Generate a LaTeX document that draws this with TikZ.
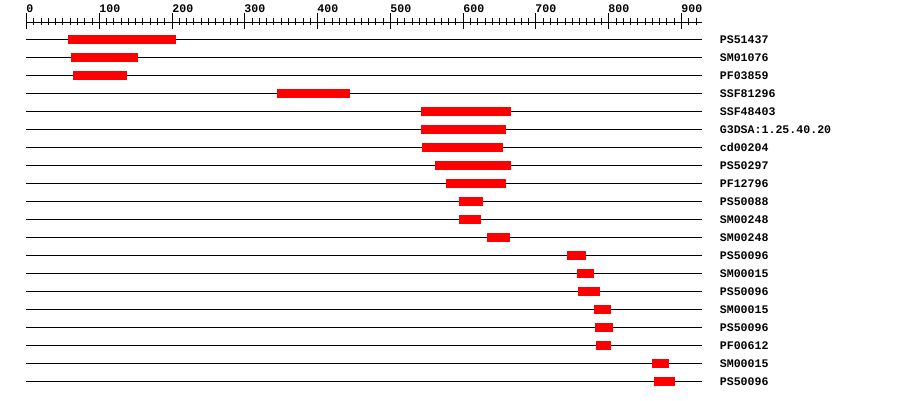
\documentclass[tikz,border=0pt]{standalone}
\usepackage{fontspec}
\setmonofont{Liberation Mono}
\usepackage{tikz}
\definecolor{domainred}{RGB}{255,0,0}

\begin{document}
\begin{tikzpicture}[
        x=0.02cm, y=-0.02cm,
        track/.style={line width=0.567pt, black},
        domainbar/.style={fill=domainred},
        ruletick/.style={line width=0.567pt, black},
        rulelabel/.style={font=\ttfamily\bfseries\fontsize{6.6}{7}\selectfont, inner sep=0pt, anchor=base west},
        dlabel/.style={font=\ttfamily\bfseries\fontsize{6.6}{7}\selectfont, inner sep=0pt, anchor=base west}
    ]
        \useasboundingbox (0,0) rectangle (900,400);

        % Ruler (sequence positions)
        \draw[ruletick] (26,22.5) -- (702,22.5);
        \foreach \t in {0,10,...,920}
            \draw[ruletick] ({round(0.7278*\t)+26.5},18) -- ++(0,7);
        \foreach \t in {0,100,...,900} {
            \draw[ruletick] ({round(0.7278*\t)+26.5},13) -- ++(0,16);
            \node[rulelabel] (r\t) at ({round(0.7278*\t)+26},12) {\t};
        }

        % Domain tracks
        \foreach [count=\i] \name/\a/\b in {
                PS51437/57/206, SM01076/61/153, PF03859/64/138,
                SSF81296/344/445, SSF48403/542/666, G3DSA:1.25.40.20/542/659,
                cd00204/544/655, PS50297/561/666, PF12796/577/659,
                PS50088/594/627, SM00248/594/625, SM00248/633/665,
                PS50096/743/769, SM00015/757/780, PS50096/758/788,
                SM00015/780/803, PS50096/781/806, PF00612/783/803,
                SM00015/860/883, PS50096/862/891} {
            \pgfmathsetmacro\y{39.5+18*(\i-1)}
            \draw[track] (26,\y) -- (702,\y);
            \fill[domainbar] ({round(26.3+0.7278*\a)},\y-4.5) rectangle ({round(26.3+0.7278*\b)},\y+4.5);
            \node[dlabel] (lab\i) at (719.5,\y+3.7) {\name};
        }
    \end{tikzpicture}
\end{document}
